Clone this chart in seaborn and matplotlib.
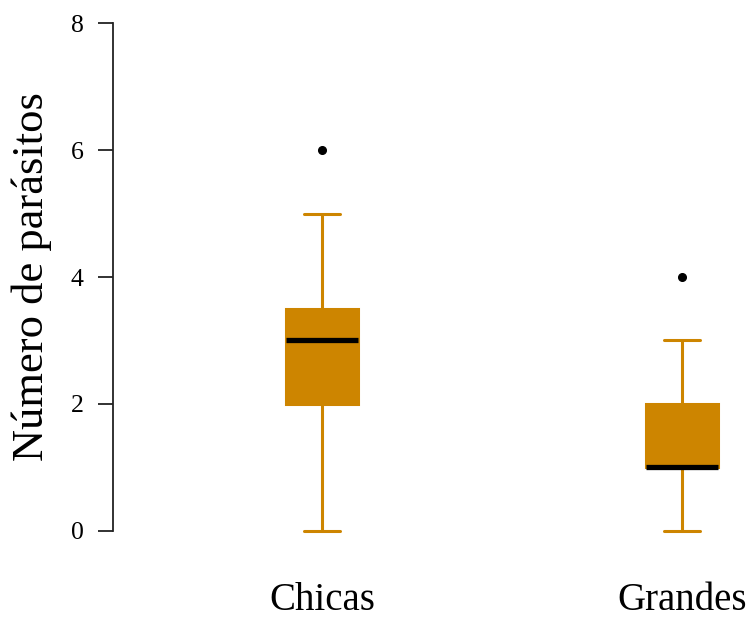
import matplotlib
matplotlib.use("Agg")
import matplotlib.pyplot as plt
import seaborn as sns
import pandas as pd

categories = ["Chicas", "Grandes"]
chicas = [0, 1, 2, 2, 2, 2, 3, 3, 3, 3, 3, 4, 4, 5, 6]
grandes = [0, 0, 1, 1, 1, 1, 1, 1, 1, 2, 2, 2, 2, 3, 4]
yticks = [0, 2, 4, 6, 8]

df = pd.DataFrame({
    "grupo": [categories[0]] * len(chicas) + [categories[1]] * len(grandes),
    "valor": chicas + grandes,
})

sns.set_style("white")
plt.rcParams["font.family"] = ["Liberation Serif", "DejaVu Serif"]
plt.rcParams["text.color"] = "black"
plt.rcParams["axes.labelcolor"] = "black"
plt.rcParams["xtick.color"] = "black"
plt.rcParams["ytick.color"] = "black"

W, H = 749, 619
fig = plt.figure(figsize=(W / 100, H / 100), dpi=100)
ax = fig.add_axes([113 / W, (H - 551.3) / H, (W - 113) / W, (551.3 - 2.7) / H])

orange = "#CD8500"
sns.boxplot(
    data=df, x="grupo", y="valor", order=categories, ax=ax,
    color=orange, saturation=1, linecolor=orange, width=0.198, linewidth=2.2,
    medianprops={"color": "black", "linewidth": 3.8},
    flierprops={"marker": "o", "markerfacecolor": "black", "markeredgecolor": "black",
                "markersize": 5.5},
)

ax.set_xlim(-0.58, (W - 322) / 360)
ax.set_ylim(-0.32, 8.32)
ax.set_yticks(yticks)
ax.set_yticklabels([str(t) for t in yticks])
for s in ["top", "right", "bottom"]:
    ax.spines[s].set_visible(False)
ax.spines["left"].set_bounds(0, 8)
ax.spines["left"].set_linewidth(1.3)
ax.spines["left"].set_color("#222222")
ax.tick_params(axis="y", length=11, width=1.3, color="#222222", labelcolor="black",
               labelsize=18.5, pad=10, left=True)
ax.tick_params(axis="x", length=0, labelsize=28, labelcolor="black", pad=22)
ax.set_xlabel("")
ax.set_ylabel("Número de parásitos", fontsize=32, labelpad=14, color="black")
ax.grid(False)

fig.savefig("out.png", dpi=100)
